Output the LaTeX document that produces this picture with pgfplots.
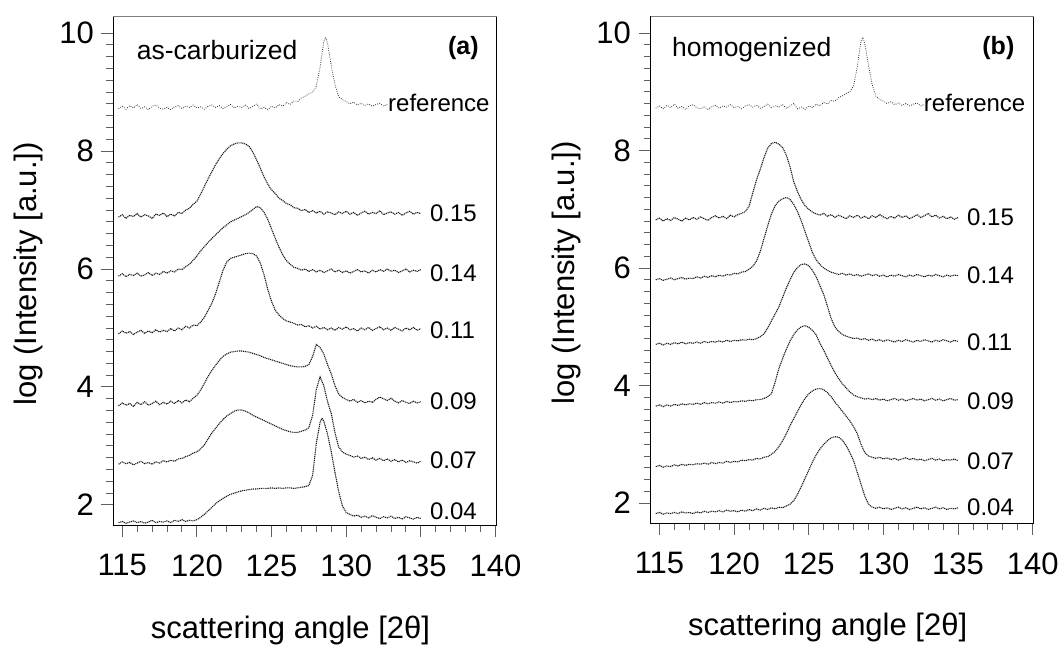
\documentclass[border=0pt]{standalone}
\usepackage{fontspec}
\setmainfont{Liberation Sans}
\usepackage{pgfplots}
\usepackage{pgfplotstable}
\pgfplotsset{compat=1.18}

\pgfplotstableread{
x y
114.75 8.72
115.00 8.76
115.25 8.71
115.50 8.77
115.75 8.73
116.00 8.79
116.25 8.72
116.50 8.75
116.75 8.70
117.00 8.76
117.25 8.78
117.50 8.73
117.75 8.71
118.00 8.74
118.25 8.70
118.50 8.75
118.75 8.77
119.00 8.72
119.25 8.76
119.50 8.74
119.75 8.78
120.00 8.73
120.25 8.75
120.50 8.71
120.75 8.76
121.00 8.78
121.25 8.74
121.50 8.77
121.75 8.72
122.00 8.75
122.25 8.79
122.50 8.73
122.75 8.76
123.00 8.74
123.25 8.78
123.50 8.72
123.75 8.76
124.00 8.80
124.25 8.71
124.50 8.74
124.75 8.70
125.00 8.76
125.25 8.73
125.50 8.79
125.75 8.76
126.00 8.82
126.25 8.79
126.50 8.85
126.75 8.84
127.00 8.90
127.25 8.93
127.50 8.97
127.75 9.00
128.00 9.10
128.25 9.42
128.375 9.65
128.50 9.86
128.625 9.93
128.75 9.82
129.00 9.45
129.25 9.12
129.50 8.92
129.75 8.87
130.00 8.84
130.25 8.80
130.50 8.83
130.75 8.78
131.00 8.81
131.25 8.77
131.50 8.80
131.75 8.76
132.00 8.79
132.25 8.81
132.50 8.76
132.75 8.79
}\refdata

\pgfplotstableread{
x y
114.75 6.88
115.00 6.92
115.25 6.86
115.50 6.91
115.75 6.89
116.00 6.94
116.25 6.88
116.50 6.92
116.75 6.90
117.00 6.86
117.25 6.93
117.50 6.91
117.75 6.95
118.00 6.89
118.25 6.93
118.50 6.90
118.75 6.96
119.00 6.94
119.25 7.00
119.50 7.03
119.75 7.10
120.00 7.15
120.25 7.27
120.50 7.40
120.75 7.53
121.00 7.65
121.25 7.77
121.50 7.87
121.75 7.96
122.00 8.03
122.25 8.09
122.50 8.12
122.75 8.14
123.00 8.14
123.25 8.12
123.50 8.08
123.75 7.98
124.00 7.85
124.25 7.71
124.50 7.56
124.75 7.44
125.00 7.34
125.25 7.28
125.50 7.20
125.75 7.16
126.00 7.11
126.25 7.09
126.50 7.04
126.75 7.03
127.00 6.99
127.25 7.01
127.50 6.96
127.75 6.99
128.00 6.95
128.25 6.98
128.50 6.93
128.75 6.97
129.00 6.95
129.25 6.92
129.50 6.97
129.75 6.94
130.00 6.98
130.25 6.93
130.50 6.96
130.75 6.91
131.00 6.95
131.25 6.98
131.50 6.93
131.75 6.96
132.00 6.94
132.25 6.99
132.50 6.92
132.75 6.95
133.00 6.97
133.25 6.93
133.50 6.96
133.75 6.91
134.00 6.95
134.25 6.98
134.50 6.93
134.75 6.96
135.00 6.94
}\aFifteen

\pgfplotstableread{
x y
114.75 5.88
115.00 5.92
115.25 5.87
115.50 5.91
115.75 5.89
116.00 5.93
116.25 5.88
116.50 5.90
116.75 5.94
117.00 5.89
117.25 5.93
117.50 5.91
117.75 5.96
118.00 5.93
118.25 5.97
118.50 5.95
118.75 6.00
119.00 5.99
119.25 6.04
119.50 6.08
119.75 6.15
120.00 6.22
120.25 6.31
120.50 6.38
120.75 6.45
121.00 6.52
121.25 6.58
121.50 6.64
121.75 6.70
122.00 6.75
122.25 6.80
122.50 6.83
122.75 6.86
123.00 6.89
123.25 6.92
123.50 6.96
123.75 7.01
124.00 7.06
124.25 7.04
124.50 6.96
124.75 6.84
125.00 6.68
125.25 6.52
125.50 6.37
125.75 6.24
126.00 6.14
126.25 6.08
126.50 6.03
126.75 6.01
127.00 5.98
127.25 6.00
127.50 5.96
127.75 5.99
128.00 5.95
128.25 5.98
128.50 5.94
128.75 5.97
129.00 6.00
129.25 5.95
129.50 5.98
129.75 5.94
130.00 5.97
130.25 5.93
130.50 5.96
130.75 5.99
131.00 5.95
131.25 5.97
131.50 5.93
131.75 5.98
132.00 5.95
132.25 5.99
132.50 5.96
132.75 6.00
133.00 5.96
133.25 5.98
133.50 5.94
133.75 5.97
134.00 6.00
134.25 5.95
134.50 5.98
134.75 5.96
135.00 5.99
}\aFourteen

\pgfplotstableread{
x y
114.75 4.90
115.00 4.95
115.25 4.91
115.50 4.94
115.75 4.89
116.00 4.93
116.25 4.96
116.50 4.91
116.75 4.95
117.00 4.92
117.25 4.97
117.50 4.93
117.75 4.96
118.00 4.94
118.25 4.99
118.50 4.95
118.75 5.00
119.00 4.97
119.25 5.03
119.50 5.00
119.75 5.05
120.00 5.04
120.25 5.10
120.50 5.18
120.75 5.30
121.00 5.42
121.25 5.58
121.50 5.78
121.75 5.98
122.00 6.12
122.25 6.18
122.50 6.20
122.75 6.22
123.00 6.24
123.25 6.26
123.50 6.27
123.75 6.26
124.00 6.22
124.25 6.10
124.50 5.90
124.75 5.65
125.00 5.45
125.25 5.30
125.50 5.22
125.75 5.16
126.00 5.12
126.25 5.10
126.50 5.08
126.75 5.05
127.00 5.06
127.25 5.02
127.50 5.04
127.75 5.00
128.00 5.03
128.25 4.98
128.50 5.01
128.75 4.97
129.00 5.00
129.25 4.96
129.50 5.01
129.75 4.98
130.00 5.02
130.25 4.97
130.50 4.99
130.75 4.95
131.00 5.00
131.25 4.97
131.50 5.01
131.75 4.96
132.00 4.99
132.25 5.02
132.50 4.97
132.75 5.00
133.00 4.96
133.25 5.01
133.50 4.98
133.75 4.95
134.00 5.00
134.25 4.97
134.50 5.01
134.75 4.96
135.00 4.99
}\aEleven

\pgfplotstableread{
x y
114.75 3.68
115.00 3.73
115.25 3.69
115.50 3.72
115.75 3.67
116.00 3.74
116.25 3.70
116.50 3.75
116.75 3.69
117.00 3.72
117.25 3.76
117.50 3.70
117.75 3.74
118.00 3.71
118.25 3.76
118.50 3.72
118.75 3.77
119.00 3.73
119.25 3.78
119.50 3.75
119.75 3.81
120.00 3.86
120.25 3.95
120.50 4.06
120.75 4.18
121.00 4.28
121.25 4.37
121.50 4.45
121.75 4.52
122.00 4.56
122.25 4.59
122.50 4.60
122.75 4.61
123.00 4.61
123.25 4.60
123.50 4.59
123.75 4.57
124.00 4.55
124.25 4.53
124.50 4.50
124.75 4.48
125.00 4.46
125.25 4.44
125.50 4.42
125.75 4.40
126.00 4.38
126.25 4.36
126.50 4.35
126.75 4.34
127.00 4.34
127.25 4.35
127.50 4.38
127.75 4.52
128.00 4.72
128.25 4.67
128.50 4.56
128.75 4.38
129.00 4.22
129.25 4.02
129.50 3.88
129.75 3.82
130.00 3.79
130.25 3.76
130.50 3.79
130.75 3.74
131.00 3.77
131.25 3.73
131.50 3.76
131.75 3.74
132.00 3.79
132.25 3.83
132.50 3.80
132.75 3.77
133.00 3.81
133.25 3.76
133.50 3.73
133.75 3.77
134.00 3.74
134.25 3.72
134.50 3.76
134.75 3.73
135.00 3.75
}\aNine

\pgfplotstableread{
x y
114.75 2.69
115.00 2.73
115.25 2.70
115.50 2.72
115.75 2.68
116.00 2.71
116.25 2.74
116.50 2.70
116.75 2.72
117.00 2.69
117.25 2.73
117.50 2.71
117.75 2.75
118.00 2.73
118.25 2.76
118.50 2.74
118.75 2.78
119.00 2.79
119.25 2.82
119.50 2.84
119.75 2.88
120.00 2.90
120.25 2.95
120.50 3.02
120.75 3.12
121.00 3.22
121.25 3.30
121.50 3.38
121.75 3.45
122.00 3.51
122.25 3.55
122.50 3.59
122.75 3.61
123.00 3.61
123.25 3.59
123.50 3.56
123.75 3.52
124.00 3.49
124.25 3.46
124.50 3.43
124.75 3.40
125.00 3.37
125.25 3.34
125.50 3.31
125.75 3.28
126.00 3.26
126.25 3.24
126.50 3.23
126.75 3.23
127.00 3.25
127.25 3.27
127.50 3.31
127.75 3.52
128.00 3.96
128.25 4.17
128.50 4.02
128.75 3.75
129.00 3.55
129.25 3.22
129.50 2.98
129.75 2.90
130.00 2.86
130.25 2.84
130.50 2.81
130.75 2.83
131.00 2.79
131.25 2.81
131.50 2.77
131.75 2.80
132.00 2.76
132.25 2.79
132.50 2.75
132.75 2.78
133.00 2.74
133.25 2.77
133.50 2.73
133.75 2.76
134.00 2.72
134.25 2.75
134.50 2.73
134.75 2.71
135.00 2.74
}\aSeven

\pgfplotstableread{
x y
114.75 1.70
115.00 1.72
115.25 1.69
115.50 1.71
115.75 1.73
116.00 1.70
116.25 1.72
116.50 1.69
116.75 1.71
117.00 1.74
117.25 1.70
117.50 1.72
117.75 1.71
118.00 1.73
118.25 1.70
118.50 1.74
118.75 1.72
119.00 1.75
119.25 1.72
119.50 1.74
119.75 1.73
120.00 1.75
120.25 1.79
120.50 1.84
120.75 1.90
121.00 1.96
121.25 2.02
121.50 2.07
121.75 2.11
122.00 2.15
122.25 2.18
122.50 2.20
122.75 2.22
123.00 2.24
123.25 2.25
123.50 2.26
123.75 2.27
124.00 2.27
124.25 2.28
124.50 2.28
124.75 2.28
125.00 2.29
125.25 2.28
125.50 2.29
125.75 2.28
126.00 2.29
126.25 2.29
126.50 2.28
126.75 2.29
127.00 2.30
127.25 2.31
127.50 2.33
127.75 2.50
128.00 3.05
128.25 3.40
128.375 3.47
128.50 3.42
128.75 3.20
129.00 2.90
129.25 2.55
129.50 2.22
129.75 1.98
130.00 1.87
130.25 1.84
130.50 1.81
130.75 1.83
131.00 1.79
131.25 1.81
131.50 1.78
131.75 1.82
132.00 1.79
132.25 1.77
132.50 1.80
132.75 1.78
133.00 1.81
133.25 1.77
133.50 1.79
133.75 1.76
134.00 1.80
134.25 1.78
134.50 1.76
134.75 1.79
135.00 1.77
}\aFour

\pgfplotstableread{
x y
114.75 6.82
115.00 6.85
115.25 6.80
115.50 6.84
115.75 6.81
116.00 6.86
116.25 6.83
116.50 6.80
116.75 6.85
117.00 6.82
117.25 6.86
117.50 6.83
117.75 6.87
118.00 6.84
118.25 6.81
118.50 6.86
118.75 6.89
119.00 6.85
119.25 6.88
119.50 6.84
119.75 6.90
120.00 6.87
120.25 6.91
120.50 6.93
120.75 6.96
121.00 7.05
121.25 7.28
121.50 7.50
121.75 7.68
122.00 7.88
122.25 8.04
122.50 8.12
122.75 8.14
123.00 8.11
123.25 8.05
123.50 7.92
123.75 7.72
124.00 7.46
124.25 7.30
124.50 7.16
124.75 7.06
125.00 7.00
125.25 6.95
125.50 6.92
125.75 6.90
126.00 6.93
126.25 6.88
126.50 6.91
126.75 6.86
127.00 6.90
127.25 6.87
127.50 6.84
127.75 6.89
128.00 6.86
128.25 6.90
128.50 6.85
128.75 6.88
129.00 6.84
129.25 6.89
129.50 6.86
129.75 6.91
130.00 6.87
130.25 6.84
130.50 6.88
130.75 6.85
131.00 6.90
131.25 6.86
131.50 6.89
131.75 6.84
132.00 6.87
132.25 6.91
132.50 6.86
132.75 6.89
133.00 6.93
133.25 6.87
133.50 6.90
133.75 6.85
134.00 6.88
134.25 6.84
134.50 6.87
134.75 6.83
135.00 6.86
}\bFifteen

\pgfplotstableread{
x y
114.75 5.80
115.00 5.82
115.25 5.79
115.50 5.81
115.75 5.83
116.00 5.80
116.25 5.82
116.50 5.84
116.75 5.81
117.00 5.83
117.25 5.82
117.50 5.85
117.75 5.83
118.00 5.86
118.25 5.84
118.50 5.87
118.75 5.85
119.00 5.88
119.25 5.86
119.50 5.89
119.75 5.88
120.00 5.91
120.25 5.90
120.50 5.93
120.75 5.94
121.00 5.98
121.25 6.03
121.50 6.12
121.75 6.28
122.00 6.50
122.25 6.72
122.50 6.92
122.75 7.06
123.00 7.14
123.25 7.18
123.50 7.20
123.75 7.17
124.00 7.08
124.25 6.96
124.50 6.80
124.75 6.62
125.00 6.44
125.25 6.26
125.50 6.14
125.75 6.06
126.00 6.00
126.25 5.96
126.50 5.93
126.75 5.91
127.00 5.89
127.25 5.91
127.50 5.88
127.75 5.90
128.00 5.87
128.25 5.89
128.50 5.86
128.75 5.88
129.00 5.90
129.25 5.87
129.50 5.89
129.75 5.86
130.00 5.88
130.25 5.85
130.50 5.88
130.75 5.86
131.00 5.89
131.25 5.87
131.50 5.85
131.75 5.88
132.00 5.86
132.25 5.89
132.50 5.87
132.75 5.85
133.00 5.88
133.25 5.86
133.50 5.89
133.75 5.87
134.00 5.85
134.25 5.88
134.50 5.86
134.75 5.88
135.00 5.87
}\bFourteen

\pgfplotstableread{
x y
114.75 4.70
115.00 4.72
115.25 4.69
115.50 4.72
115.75 4.70
116.00 4.73
116.25 4.71
116.50 4.74
116.75 4.71
117.00 4.73
117.25 4.72
117.50 4.74
117.75 4.72
118.00 4.75
118.25 4.73
118.50 4.75
118.75 4.74
119.00 4.76
119.25 4.74
119.50 4.77
119.75 4.75
120.00 4.77
120.25 4.76
120.50 4.78
120.75 4.77
121.00 4.79
121.25 4.78
121.50 4.80
121.75 4.83
122.00 4.88
122.25 4.98
122.50 5.10
122.75 5.22
123.00 5.34
123.25 5.50
123.50 5.66
123.75 5.80
124.00 5.93
124.25 6.01
124.50 6.06
124.75 6.07
125.00 6.04
125.25 5.96
125.50 5.85
125.75 5.70
126.00 5.55
126.25 5.35
126.50 5.14
126.75 5.00
127.00 4.92
127.25 4.87
127.50 4.84
127.75 4.82
128.00 4.80
128.25 4.81
128.50 4.78
128.75 4.80
129.00 4.77
129.25 4.79
129.50 4.76
129.75 4.78
130.00 4.75
130.25 4.78
130.50 4.76
130.75 4.74
131.00 4.77
131.25 4.75
131.50 4.78
131.75 4.76
132.00 4.74
132.25 4.77
132.50 4.75
132.75 4.78
133.00 4.76
133.25 4.74
133.50 4.77
133.75 4.75
134.00 4.78
134.25 4.76
134.50 4.74
134.75 4.77
135.00 4.75
}\bEleven

\pgfplotstableread{
x y
114.75 3.65
115.00 3.67
115.25 3.64
115.50 3.67
115.75 3.65
116.00 3.68
116.25 3.66
116.50 3.69
116.75 3.67
117.00 3.69
117.25 3.68
117.50 3.70
117.75 3.68
118.00 3.71
118.25 3.69
118.50 3.71
118.75 3.70
119.00 3.72
119.25 3.70
119.50 3.73
119.75 3.71
120.00 3.73
120.25 3.72
120.50 3.74
120.75 3.73
121.00 3.75
121.25 3.74
121.50 3.76
121.75 3.76
122.00 3.78
122.25 3.81
122.50 3.86
122.75 4.06
123.00 4.29
123.25 4.46
123.50 4.62
123.75 4.76
124.00 4.87
124.25 4.95
124.50 5.00
124.75 5.02
125.00 4.99
125.25 4.94
125.50 4.86
125.75 4.72
126.00 4.60
126.25 4.47
126.50 4.34
126.75 4.22
127.00 4.12
127.25 4.03
127.50 3.96
127.75 3.89
128.00 3.84
128.25 3.81
128.50 3.79
128.75 3.77
129.00 3.78
129.25 3.76
129.50 3.78
129.75 3.75
130.00 3.77
130.25 3.74
130.50 3.76
130.75 3.78
131.00 3.75
131.25 3.77
131.50 3.74
131.75 3.76
132.00 3.78
132.25 3.75
132.50 3.77
132.75 3.74
133.00 3.76
133.25 3.78
133.50 3.75
133.75 3.77
134.00 3.74
134.25 3.76
134.50 3.78
134.75 3.75
135.00 3.76
}\bNine

\pgfplotstableread{
x y
114.75 2.62
115.00 2.64
115.25 2.61
115.50 2.63
115.75 2.62
116.00 2.65
116.25 2.63
116.50 2.66
116.75 2.64
117.00 2.66
117.25 2.65
117.50 2.67
117.75 2.66
118.00 2.68
118.25 2.66
118.50 2.69
118.75 2.67
119.00 2.69
119.25 2.68
119.50 2.71
119.75 2.69
120.00 2.71
120.25 2.70
120.50 2.73
120.75 2.72
121.00 2.74
121.25 2.73
121.50 2.76
121.75 2.75
122.00 2.78
122.25 2.79
122.50 2.83
122.75 2.88
123.00 2.96
123.25 3.06
123.50 3.18
123.75 3.32
124.00 3.44
124.25 3.56
124.50 3.68
124.75 3.78
125.00 3.86
125.25 3.91
125.50 3.94
125.75 3.95
126.00 3.93
126.25 3.88
126.50 3.81
126.75 3.72
127.00 3.64
127.25 3.56
127.50 3.48
127.75 3.40
128.00 3.30
128.25 3.18
128.50 3.00
128.75 2.86
129.00 2.80
129.25 2.78
129.50 2.76
129.75 2.78
130.00 2.75
130.25 2.77
130.50 2.74
130.75 2.76
131.00 2.73
131.25 2.75
131.50 2.77
131.75 2.74
132.00 2.76
132.25 2.73
132.50 2.75
132.75 2.72
133.00 2.74
133.25 2.76
133.50 2.73
133.75 2.75
134.00 2.72
134.25 2.74
134.50 2.73
134.75 2.75
135.00 2.72
}\bSeven

\pgfplotstableread{
x y
114.75 1.82
115.00 1.84
115.25 1.81
115.50 1.83
115.75 1.82
116.00 1.84
116.25 1.82
116.50 1.85
116.75 1.83
117.00 1.84
117.25 1.82
117.50 1.85
117.75 1.83
118.00 1.86
118.25 1.84
118.50 1.86
118.75 1.85
119.00 1.87
119.25 1.85
119.50 1.88
119.75 1.86
120.00 1.87
120.25 1.85
120.50 1.88
120.75 1.86
121.00 1.89
121.25 1.87
121.50 1.90
121.75 1.88
122.00 1.91
122.25 1.89
122.50 1.92
122.75 1.90
123.00 1.93
123.25 1.92
123.50 1.95
123.75 1.98
124.00 2.04
124.25 2.15
124.50 2.28
124.75 2.42
125.00 2.56
125.25 2.70
125.50 2.82
125.75 2.92
126.00 3.00
126.25 3.06
126.50 3.11
126.75 3.13
127.00 3.12
127.25 3.07
127.50 2.98
127.75 2.86
128.00 2.72
128.25 2.52
128.50 2.32
128.75 2.12
129.00 1.98
129.25 1.93
129.50 1.91
129.75 1.93
130.00 1.90
130.25 1.92
130.50 1.89
130.75 1.91
131.00 1.93
131.25 1.90
131.50 1.92
131.75 1.89
132.00 1.91
132.25 1.93
132.50 1.90
132.75 1.92
133.00 1.89
133.25 1.91
133.50 1.93
133.75 1.90
134.00 1.92
134.25 1.89
134.50 1.91
134.75 1.90
135.00 1.92
}\bFour

\tikzset{
  lab/.style={anchor=west, inner sep=0pt, font=\fontsize{24}{28}\selectfont},
  cur/.style={black!90, line width=1.1pt, dash pattern=on 1.1pt off 0.8pt},
  refc/.style={black!80, line width=0.8pt, dash pattern=on 0.8pt off 1.4pt},
}
\pgfplotsset{
  myax/.style={
    scale only axis, width=383.4pt,
    xmin=114.4, xmax=140.08, ymin=1.66, ymax=10.29,
    xtick={115,120,...,140}, ytick={2,4,...,10},
    minor x tick num=4, minor y tick num=9,
    tick align=outside, tick pos=left,
    major tick length=12pt, minor tick length=7pt,
    every tick/.style={gray!75!black, line width=1pt},
    axis line style={line width=1pt, black},
    ticklabel style={font=\fontsize{31}{36}\selectfont},
    xticklabel style={yshift=-14pt},
    yticklabel style={xshift=-4pt},
    /pgf/number format/assume math mode=true,
    label style={font=\fontsize{31}{36}\selectfont},
    xlabel={scattering angle [2θ]},
    ylabel={log (Intensity [a.u.])},
    xlabel style={at={(axis description cs:0.462,-0.207)}, anchor=center},
    ylabel style={at={(axis description cs:-0.22,0.493)}, anchor=center},
    after end axis/.code={\draw[gray, line width=1pt] (rel axis cs:0,1) -- (rel axis cs:1,1);},
  },
}

\begin{document}
\begin{tikzpicture}
\path[use as bounding box] (0pt,0pt) rectangle (1059pt,646pt);
\begin{axis}[myax, at={(113.3pt,121pt)}, anchor=south west, height=509pt]
\addplot[refc] table[x=x,y=y] {\refdata};
\addplot[cur] table[x=x,y=y] {\aFifteen};
\addplot[cur] table[x=x,y=y] {\aFourteen};
\addplot[cur] table[x=x,y=y] {\aEleven};
\addplot[cur] table[x=x,y=y] {\aNine};
\addplot[cur] table[x=x,y=y] {\aSeven};
\addplot[cur] table[x=x,y=y] {\aFour};
\node[lab] at (axis cs:132.8,8.81) {reference};
\node[lab] at (axis cs:135.6,6.95) {0.15};
\node[lab] at (axis cs:135.6,5.93) {0.14};
\node[lab] at (axis cs:135.6,4.97) {0.11};
\node[lab] at (axis cs:135.6,3.75) {0.09};
\node[lab] at (axis cs:135.6,2.76) {0.07};
\node[lab] at (axis cs:135.6,1.89) {0.04};
\node[anchor=base west, inner sep=0pt, font=\fontsize{26.5}{31}\selectfont] at (axis cs:115.97,9.55) {as-carburized};
\node[anchor=base, inner sep=0pt, font=\fontsize{25}{30}\selectfont\bfseries] at (axis cs:137.85,9.63) {(a)};
\end{axis}
\begin{axis}[myax, at={(650.5pt,123pt)}, anchor=south west, height=507pt]
\addplot[refc] table[x=x,y=y] {\refdata};
\addplot[cur] table[x=x,y=y] {\bFifteen};
\addplot[cur] table[x=x,y=y] {\bFourteen};
\addplot[cur] table[x=x,y=y] {\bEleven};
\addplot[cur] table[x=x,y=y] {\bNine};
\addplot[cur] table[x=x,y=y] {\bSeven};
\addplot[cur] table[x=x,y=y] {\bFour};
\node[lab] at (axis cs:132.7,8.81) {reference};
\node[lab] at (axis cs:135.6,6.86) {0.15};
\node[lab] at (axis cs:135.6,5.87) {0.14};
\node[lab] at (axis cs:135.6,4.73) {0.11};
\node[lab] at (axis cs:135.6,3.73) {0.09};
\node[lab] at (axis cs:135.6,2.71) {0.07};
\node[lab] at (axis cs:135.6,1.92) {0.04};
\node[anchor=base west, inner sep=0pt, font=\fontsize{26.5}{31}\selectfont] at (axis cs:115.84,9.60) {homogenized};
\node[anchor=base, inner sep=0pt, font=\fontsize{25}{30}\selectfont\bfseries] at (axis cs:137.7,9.63) {(b)};
\end{axis}
\end{tikzpicture}
\end{document}
